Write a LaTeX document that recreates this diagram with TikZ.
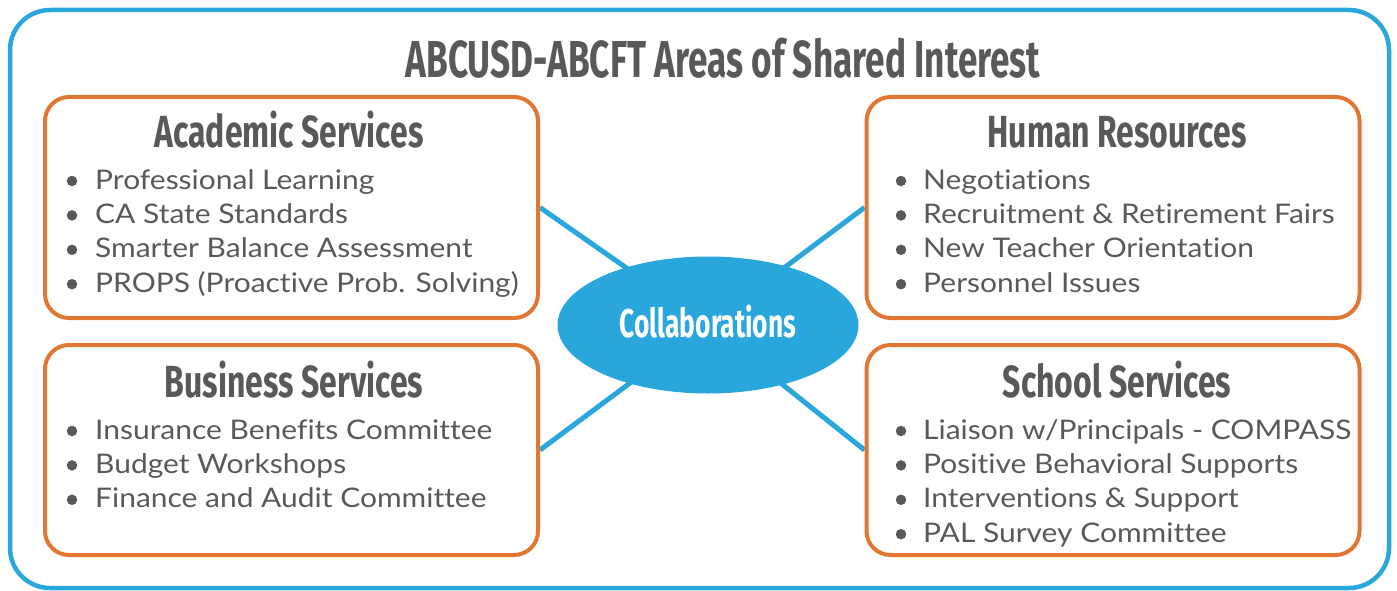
\documentclass[tikz,border=0pt]{standalone}
\usepackage{fontspec}
\setmainfont{Lato}[FakeStretch=1.11, Ligatures=NoCommon]
\newfontfamily\headfont[FakeStretch=0.71]{Fira Sans}
\newfontfamily\titlefont[FakeStretch=0.676]{Fira Sans}
\newfontfamily\colfont[FakeStretch=0.66]{Fira Sans}
\usetikzlibrary{shapes.geometric,backgrounds}
\definecolor{myblue}{HTML}{29A6DC}
\definecolor{myorange}{HTML}{E27733}
\definecolor{mygray}{HTML}{58595B}
\tikzset{
  areabox/.style={draw=myorange, line width=4pt, rounded corners=24pt, minimum width=493pt, minimum height=#1, inner sep=0pt},
  headtxt/.style={anchor=base, text=mygray, font=\headfont\bfseries\fontsize{45}{50}\selectfont, inner sep=0pt},
  itemtxt/.style={anchor=base west, text=mygray, font=\fontsize{27}{30}\selectfont, inner sep=0pt},
  bul/.style={circle, fill=mygray, minimum size=10.5pt, inner sep=0pt},
  link/.style={draw=myblue, line width=5pt},
}
\begin{document}
\begin{tikzpicture}[x=1pt,y=-1pt]
\useasboundingbox (0,0) rectangle (1397,591);
\draw[myblue, line width=4.5pt, rounded corners=40pt] (10,10) rectangle (1389,588);
\node[anchor=base, text=mygray, font=\titlefont\bfseries\fontsize{52}{58}\selectfont, inner sep=0pt] (title) at (723,78) {ABCUSD-ABCFT Areas of Shared Interest};

\node[areabox=221pt] (acad) at (291.5,207.5) {};
\node[areabox=221pt] (hr) at (1113,207.5) {};
\node[areabox=210pt] (bus) at (291.5,450) {};
\node[areabox=210pt] (sch) at (1113,450) {};

\node[ellipse, fill=myblue, minimum width=301pt, minimum height=137pt, inner sep=0pt] (col) at (708,325) {};
\node[anchor=base, text=white, font=\colfont\bfseries\fontsize{40}{44}\selectfont, inner sep=0pt] (coltxt) at (708,337) {Collaborations};

\begin{pgfonlayer}{background}
\draw[link] (acad.east) -- (col.center);
\draw[link] (hr.west) -- (col.center);
\draw[link] (bus.east) -- (col.center);
\draw[link] (sch.west) -- (col.center);
\end{pgfonlayer}

% headers
\node[headtxt] (h1) at (289,147) {Academic Services};
\node[headtxt] (h2) at (1117,147) {Human Resources};
\node[headtxt] (h3) at (294,397) {Business Services};
\node[headtxt] (h4) at (1117,397) {School Services};

\foreach \t [count=\i] in {Professional Learning, CA State Standards, Smarter Balance Assessment, PROPS (Proactive Prob. Solving)} {
  \node[bul] (ab\i) at (72,{189+(\i-1)*34.4-8}) {};
  \node[itemtxt] (a\i) at (95,{189+(\i-1)*34.4}) {\t};
}
\foreach \t [count=\i] in {Negotiations, Recruitment \& Retirement Fairs, New Teacher Orientation, Personnel Issues} {
  \node[bul] (rb\i) at (901,{189+(\i-1)*34.4-8}) {};
  \node[itemtxt] (r\i) at (923,{189+(\i-1)*34.4}) {\t};
}
\foreach \t [count=\i] in {Insurance Benefits Committee, Budget Workshops, Finance and Audit Committee} {
  \node[bul] (bb\i) at (72,{439+(\i-1)*34.4-8}) {};
  \node[itemtxt] (b\i) at (95,{439+(\i-1)*34.4}) {\t};
}
\foreach \t [count=\i] in {Liaison w/Principals - COMPASS, Positive Behavioral Supports, Interventions \& Support, PAL Survey Committee} {
  \node[bul] (sb\i) at (901,{439+(\i-1)*34.4-8}) {};
  \node[itemtxt] (s\i) at (923,{439+(\i-1)*34.4}) {\t};
}
\end{tikzpicture}
\end{document}
